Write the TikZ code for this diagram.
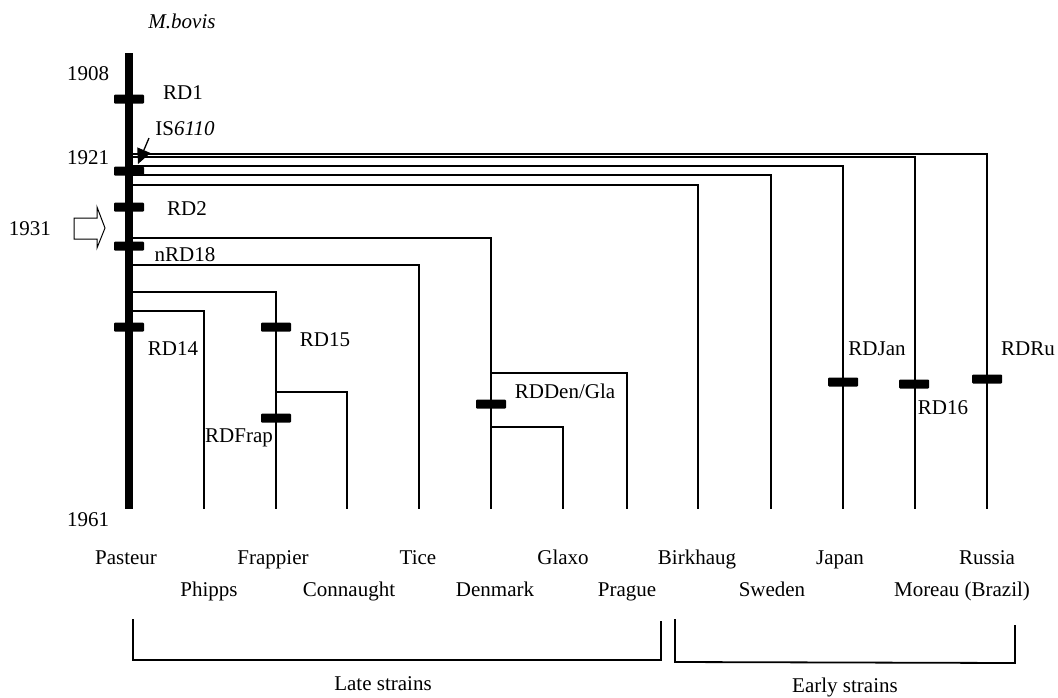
\documentclass[tikz,border=0pt]{standalone}
\usepackage{fontspec}
\setmainfont{Liberation Serif}
\usetikzlibrary{arrows.meta}
\newcommand\lblfont{\fontsize{21}{24}\selectfont}
\begin{document}
\begin{tikzpicture}[x=1pt,y=-1pt,
  every node/.style={font=\lblfont,inner sep=0pt,outer sep=0pt,text height=14pt,text depth=0pt},
  trunk/.style={line width=8pt},
  branch/.style={line width=1.3pt},
  bracketline/.style={line width=1.8pt},
  bar/.style={rectangle,fill=black,minimum width=30pt,minimum height=9pt,text height=0pt,rounded corners=1pt,inner sep=0pt}]
\useasboundingbox (0,0) rectangle (1058,697);

% trunk
\coordinate (top) at (129,53);
\coordinate (bot) at (129,509);

% branch points on the trunk
\coordinate (jRu) at (129,154);
\coordinate (jMo) at (129,157);
\coordinate (jJa) at (129,166);
\coordinate (jSw) at (129,175);
\coordinate (jBi) at (129,185);
\coordinate (jDe) at (129,238);
\coordinate (jTi) at (129,265);
\coordinate (jFr) at (129,292);
\coordinate (jPh) at (129,311);
\coordinate (jCo) at (276,392);
\coordinate (jPr) at (491,373);
\coordinate (jGl) at (491,427);

% strain ends
\coordinate (ePh) at (204,509);
\coordinate (eFr) at (276,509);
\coordinate (eCo) at (347,509);
\coordinate (eTi) at (419,509);
\coordinate (eDe) at (491,509);
\coordinate (eGl) at (563,509);
\coordinate (ePr) at (627,509);
\coordinate (eBi) at (698,509);
\coordinate (eSw) at (771,509);
\coordinate (eJa) at (843,509);
\coordinate (eMo) at (915,509);
\coordinate (eRu) at (987,509);

\draw[branch] (jRu) -| (eRu);
\draw[branch] (jMo) -| (eMo);
\draw[branch] (jJa) -| (eJa);
\draw[branch] (jSw) -| (eSw);
\draw[branch] (jBi) -| (eBi);
\draw[branch] (jDe) -| (eDe);
\draw[branch] (jTi) -| (eTi);
\draw[branch] (jFr) -| (eFr);
\draw[branch] (jPh) -| (ePh);
\draw[branch] (jCo) -| (eCo);
\draw[branch] (jPr) -| (ePr);
\draw[branch] (jGl) -| (eGl);

\draw[trunk] (top) -- (bot);

% deletion bars
\node[bar] (bRD1) at (129,99) {};
\node[bar] (b1921) at (129,171) {};
\node[bar] (bRD2) at (129,207) {};
\node[bar] (bRD18) at (129,246) {};
\node[bar] (bRD14) at (129,327) {};
\node[bar] (bRD15) at (276,327) {};
\node[bar] (bFrap) at (276,418) {};
\node[bar] (bDen) at (491,404) {};
\node[bar] (bJan) at (843,382) {};
\node[bar] (bRD16) at (914,384) {};
\node[bar] (bRu) at (987,379) {};

% labels
\node (mbovis) at (182,21) {\itshape M.bovis};
\node (y1908) at (88,73) {1908};
\node (y1921) at (88,157) {1921};
\node (y1931) at (30,228) {1931};
\node (y1961) at (88,519) {1961};
\node (lRD1) at (183,92) {RD1};
\node (lIS) at (185,128) {IS\textit{6110}};
\node (lRD2) at (187,208) {RD2};
\node (lRD18) at (185,254) {nRD18};
\node (lRD14) at (173,348) {RD14};
\node (lRD15) at (325,339) {RD15};
\node (lFrap) at (239,435) {RDFrap};
\node (lDen) at (565,391) {RDDen/Gla};
\node (lJan) at (877,348) {RDJan};
\node (lRD16) at (943,407) {RD16};
\node (lRu) at (1028,348) {RDRu};

% IS6110 arrow
\coordinate (isA) at (149,138);
\coordinate (isB) at (138,164);
\draw[line width=1.3pt,-{Triangle[length=15pt,width=14pt]}] (isA) -- (isB);

% 1931 block arrow
\draw[line width=1pt,fill=white] (74,218) -- (97,218) -- (97,207) -- (105,228) -- (97,248) -- (97,239) -- (74,239) -- cycle;

% strain names
\node (nPa) at (126,557) {Pasteur};
\node (nFr) at (273,557) {Frappier};
\node (nTi) at (418,557) {Tice};
\node (nGl) at (563,557) {Glaxo};
\node (nBi) at (697,557) {Birkhaug};
\node (nJa) at (840,557) {Japan};
\node (nRu) at (987,557) {Russia};
\node (nPh) at (209,589) {Phipps};
\node (nCo) at (349,589) {Connaught};
\node (nDe) at (495,589) {Denmark};
\node (nPr) at (627,589) {Prague};
\node (nSw) at (772,589) {Sweden};
\node (nMo) at (962,589) {Moreau (Brazil)};

% brackets
\coordinate (L1) at (133,619);
\coordinate (L2) at (661,621);
\coordinate (E1) at (675,619);
\coordinate (E2) at (1015,625);
\draw[bracketline] (L1) -- (133,660) -- (661,660) -- (L2);
\draw[bracketline] (E1) -- (675,662) -- (1015,663) -- (E2);
\node (late) at (383,683) {Late strains};
\node (early) at (845,685) {Early strains};
\end{tikzpicture}
\end{document}
